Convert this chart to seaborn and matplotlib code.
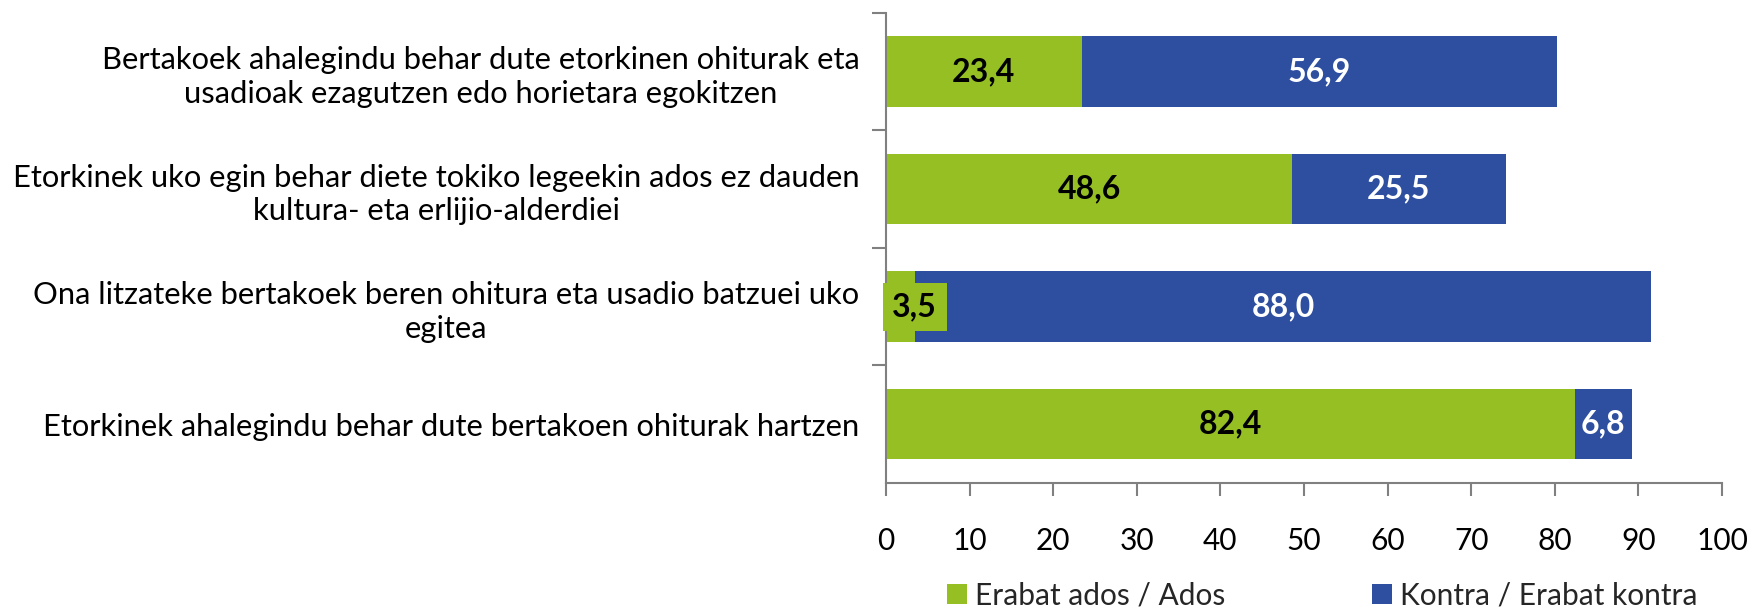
import matplotlib
matplotlib.use("Agg")
import matplotlib.pyplot as plt
from matplotlib import font_manager
import pandas as pd
import seaborn as sns
from matplotlib.patches import Patch

# data
categories = [
    "Bertakoek ahalegindu behar dute etorkinen ohiturak eta\nusadioak ezagutzen edo horietara egokitzen",
    "Etorkinek uko egin behar diete tokiko legeekin ados ez dauden\nkultura- eta erlijio-alderdiei",
    "Ona litzateke bertakoek beren ohitura eta usadio batzuei uko\negitea",
    "Etorkinek ahalegindu behar dute bertakoen ohiturak hartzen",
]
ados = [23.4, 48.6, 3.5, 82.4]
kontra = [56.9, 25.5, 88.0, 6.8]
series_names = ["Erabat ados / Ados", "Kontra / Erabat kontra"]
x_ticks = [0, 10, 20, 30, 40, 50, 60, 70, 80, 90, 100]

GREEN = "#95bf23"
BLUE = "#2e4f9f"
AXIS = "#808080"

sns.set_style("ticks")

names = {f.name for f in font_manager.fontManager.ttflist}
font_name = next((n for n in ["Lato", "Open Sans", "Roboto"] if n in names), "DejaVu Sans")
plt.rcParams["font.family"] = [font_name, "DejaVu Sans"]

df = pd.DataFrame({"label": categories, "ados": ados, "kontra": kontra})
df["total"] = df["ados"] + df["kontra"]

fig = plt.figure(figsize=(17.54, 6.10), dpi=100)
ax = fig.add_axes([0.5051, 0.2082, 0.4767, 0.7705])
renderer = fig.canvas.get_renderer()

# size the labels so the widest line spans ~848 px like the original
probe = fig.text(0, 0, "Etorkinek uko egin behar diete tokiko legeekin ados ez dauden",
                 fontsize=20)
w = probe.get_window_extent(renderer).width
probe.remove()
label_fs = 20 * 848 / w
tick_fs = 21.5
value_fs = 23

# stacked bars: full length in blue, green part drawn on top
sns.barplot(data=df, x="total", y="label", color=BLUE, width=0.6,
            saturation=1, errorbar=None, linewidth=0, ax=ax)
sns.barplot(data=df, x="ados", y="label", color=GREEN, width=0.6,
            saturation=1, errorbar=None, linewidth=0, ax=ax)

def fmt(v):
    return f"{v:.1f}".replace(".", ",")

for i, row in df.iterrows():
    # green segment label
    if row["ados"] < 8:
        ax.text(0.75, i, fmt(row["ados"]), ha="left", va="center",
                fontsize=value_fs, fontweight="bold", color="black",
                bbox=dict(boxstyle="square,pad=0.3", fc=GREEN, ec="none"))
    else:
        ax.text(row["ados"] / 2, i, fmt(row["ados"]), ha="center", va="center",
                fontsize=value_fs, fontweight="bold", color="black")
    # blue segment label
    mid = row["ados"] + row["kontra"] / 2
    if row["kontra"] < 8:
        ax.text(mid, i, fmt(row["kontra"]), ha="center", va="center",
                fontsize=value_fs, fontweight="bold", color="white",
                bbox=dict(boxstyle="square,pad=0.12", fc=BLUE, ec="none"))
    else:
        ax.text(mid, i, fmt(row["kontra"]), ha="center", va="center",
                fontsize=value_fs, fontweight="bold", color="white")

ax.set_xlim(0, 100)
ax.set_ylim(3.5, -0.5)
ax.set_xticks(x_ticks)
ax.set_xticklabels([str(t) for t in x_ticks], fontsize=tick_fs)
ax.set_xlabel("")
ax.set_ylabel("")

# category labels sit between boundary ticks
ax.set_yticks(range(len(categories)))
ax.set_yticklabels(categories, fontsize=label_fs, color="black")
for lab in ax.get_yticklabels():
    lab.set_multialignment("center")
    lab.set_linespacing(1.25)
ax.set_yticks([-0.5, 0.5, 1.5, 2.5], minor=True)
ax.tick_params(axis="y", which="major", length=0, pad=19)
ax.tick_params(axis="y", which="minor", length=10, width=1.5, color=AXIS)
ax.tick_params(axis="x", length=9, width=1.5, color=AXIS, pad=23, labelcolor="black")

sns.despine(ax=ax)
for s in ["left", "bottom"]:
    ax.spines[s].set_color(AXIS)
    ax.spines[s].set_linewidth(1.5)

handles = [Patch(fc=GREEN, ec="none"), Patch(fc=BLUE, ec="none")]
fig.legend(handles, series_names, loc="center", bbox_to_anchor=(0.754, 0.024),
           ncol=2, frameon=False, fontsize=tick_fs, handlelength=0.67,
           handleheight=0.67, handletextpad=0.27, columnspacing=4.9,
           borderpad=0, borderaxespad=0)

fig.savefig("out.png", dpi=100)
